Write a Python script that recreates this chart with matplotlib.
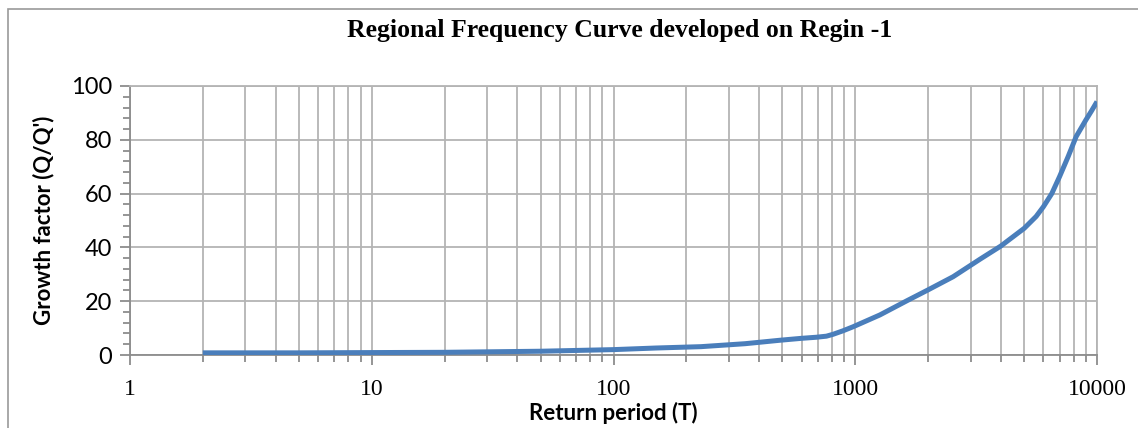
import matplotlib
matplotlib.use("Agg")
import matplotlib.pyplot as plt
from matplotlib.ticker import LogLocator, FixedLocator, NullFormatter, FuncFormatter
from matplotlib.patches import Rectangle

# return period (years) and regional growth factor Q/Q'
return_period = [2, 5, 10, 20, 50, 100, 150, 230, 350, 490, 600, 690, 760,
                 810, 890, 980, 1265, 1630, 2000, 2540, 3280, 4000, 5000,
                 5600, 6000, 6500, 7000, 7600, 8200, 9000, 9500, 10000]
growth_factor = [0.8, 0.8, 0.9, 1.0, 1.4, 2.0, 2.6, 3.1, 4.2, 5.5, 6.2, 6.6,
                 7.0, 7.7, 9.0, 10.5, 14.9, 20.1, 24.2, 29.1, 35.6, 40.5,
                 47.1, 51.5, 55.1, 60.0, 66.3, 73.8, 81.2, 87.4, 90.8, 94.2]

title = "Regional Frequency Curve developed on Regin -1"
x_label = "Return period (T)"
y_label = "Growth factor (Q/Q')"

grid_c = "#b4b4b4"
axis_c = "#8c8c8c"
line_c = "#4a7ebb"

fig = plt.figure(figsize=(11.38, 4.28), dpi=100)
W, H = 1138, 428
ax = fig.add_axes([130 / W, 1 - 355 / H, (1097 - 130) / W, (355 - 86) / H])

# outer chart frame, cut at right and bottom
fig.patches.append(Rectangle((8 / W, -0.1), 1.2, 1 - 9 / H + 0.1,
                             transform=fig.transFigure, fill=False,
                             edgecolor="#9a9a9a", linewidth=1.2))

ax.plot(return_period, growth_factor, color=line_c, linewidth=3.6,
        solid_capstyle="butt", solid_joinstyle="round", zorder=3)

ax.set_xscale("log")
ax.set_xlim(1, 10000)
ax.set_ylim(0, 100)
ax.xaxis.set_major_locator(LogLocator(base=10, numticks=10))
ax.xaxis.set_minor_locator(LogLocator(base=10, subs=range(2, 10), numticks=10))
ax.xaxis.set_major_formatter(FuncFormatter(lambda v, p: f"{v:g}"))
ax.xaxis.set_minor_formatter(NullFormatter())
ax.yaxis.set_major_locator(FixedLocator(range(0, 101, 20)))
ax.yaxis.set_minor_locator(FixedLocator(range(0, 101, 4)))

ax.grid(True, which="both", axis="x", color=grid_c, linewidth=1.3)
ax.grid(True, which="major", axis="y", color=grid_c, linewidth=1.3)
ax.set_axisbelow(True)

for s in ax.spines.values():
    s.set_color(grid_c)
    s.set_linewidth(1.3)
ax.spines["left"].set_color(axis_c)
ax.spines["bottom"].set_color(axis_c)

ax.tick_params(axis="both", which="major", direction="out", length=7,
               width=1.3, color=axis_c)
ax.tick_params(axis="both", which="minor", direction="out", length=5,
               width=1.3, color=axis_c)
ax.tick_params(axis="y", labelsize=17, pad=6)
ax.tick_params(axis="x", labelsize=17, pad=10)
for t in ax.get_yticklabels():
    t.set_family("Lato")
for t in ax.get_xticklabels():
    t.set_family("Liberation Serif")

ax.set_xlabel(x_label, fontsize=16, fontweight="bold", family="Lato", labelpad=2)
ax.set_ylabel(y_label, fontsize=16, fontweight="bold", family="Lato", labelpad=12)
fig.text(620 / W, 1 - 31 / H, title, ha="center", va="center", fontsize=18.5,
         fontweight="bold", family="Liberation Serif")

fig.savefig("out.png", dpi=100)
